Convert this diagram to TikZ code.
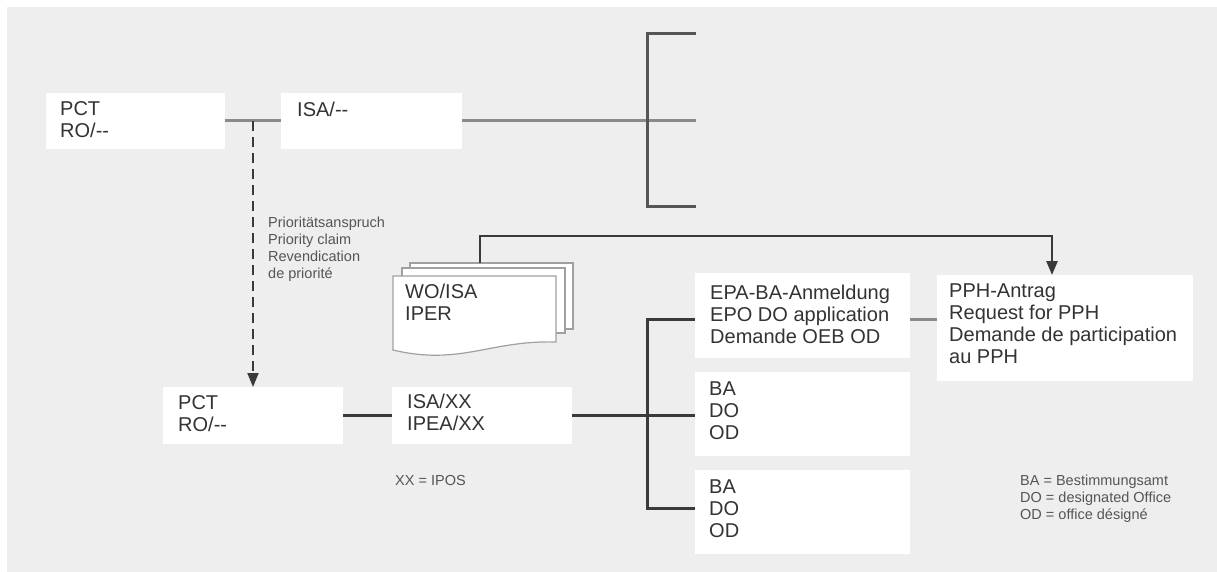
\documentclass[tikz,border=0pt]{standalone}
\usepackage{fontspec}
\setmainfont{Liberation Sans}
\usetikzlibrary{arrows.meta}
\definecolor{bg}{HTML}{EEEEEE}
\definecolor{txt}{HTML}{333333}
\definecolor{stxt}{HTML}{555555}
\definecolor{lline}{HTML}{8A8A8A}
\definecolor{dline}{HTML}{3A3A3A}
\definecolor{bline}{HTML}{555555}
\definecolor{pageline}{HTML}{A0A0A0}
\begin{document}
\begin{tikzpicture}[x=1pt,y=1pt,
  box/.style={fill=white, draw=none, inner sep=0pt, outer sep=0pt, anchor=north west},
  big/.style={anchor=north west, inner sep=0pt, align=left, font=\fontsize{20}{22}\selectfont, text=txt},
  small/.style={anchor=north west, inner sep=0pt, align=left, font=\fontsize{14.5}{17}\selectfont, text=stxt},
  lightconn/.style={draw=lline, line width=3pt},
  darkconn/.style={draw=dline, line width=3pt},
  bracketline/.style={draw=bline, line width=3pt},
  arrowconn/.style={draw=dline, line width=2.5pt, -{Triangle[length=14pt,width=11pt]}},
  arrowdash/.style={draw=dline, line width=2pt, dash pattern=on 10pt off 6pt, -{Triangle[length=14pt,width=11pt]}},
  page/.style={fill=white, draw=pageline, line width=1.2pt}
]
\useasboundingbox (0,0) rectangle (1217,-572);
\fill[bg] (7,-7) rectangle (1217,-572);

% boxes
\node[box, minimum width=179pt, minimum height=56pt] (pct1) at (46,-93) {};
\node[box, minimum width=181pt, minimum height=56pt] (isa1) at (281,-93) {};
\node[box, minimum width=180pt, minimum height=57pt] (pct2) at (163,-387) {};
\node[box, minimum width=180pt, minimum height=57pt] (isa2) at (392,-387) {};
\node[box, minimum width=215pt, minimum height=85pt] (epa) at (695,-273) {};
\node[box, minimum width=215pt, minimum height=84pt] (ba1) at (695,-372) {};
\node[box, minimum width=215pt, minimum height=84pt] (ba2) at (695,-470) {};
\node[box, minimum width=256pt, minimum height=106pt] (pph) at (937,-275) {};

% box texts
\node[big] (pct1t) at ([xshift=14pt,yshift=-6pt]pct1.north west) {\rule{0pt}{16pt}PCT\\RO/-{}-};
\node[big] (isa1t) at ([xshift=16pt,yshift=-7pt]isa1.north west) {\rule{0pt}{16pt}ISA/-{}-};
\node[big] (pct2t) at ([xshift=15pt,yshift=-6pt]pct2.north west) {\rule{0pt}{16pt}PCT\\RO/-{}-};
\node[big] (isa2t) at ([xshift=15pt,yshift=-5pt]isa2.north west) {\rule{0pt}{16pt}ISA/XX\\IPEA/XX};
\node[big] (epat) at ([xshift=15pt,yshift=-10pt]epa.north west) {\rule{0pt}{16pt}EPA-BA-Anmeldung\\EPO DO application\\Demande OEB OD};
\node[big] (ba1t) at ([xshift=14pt,yshift=-7pt]ba1.north west) {\rule{0pt}{16pt}BA\\DO\\OD};
\node[big] (ba2t) at ([xshift=14pt,yshift=-7pt]ba2.north west) {\rule{0pt}{16pt}BA\\DO\\OD};
\node[big] (ppht) at ([xshift=12pt,yshift=-6pt]pph.north west) {\rule{0pt}{16pt}PPH-Antrag\\Request for PPH\\Demande de participation\\au PPH};

% document stack
\filldraw[page] (410,-263) rectangle (573,-329);
\filldraw[page] (402,-268) rectangle (565,-333);
\filldraw[page] (393,-276) -- (556,-276) -- (556,-342) .. controls (490,-340) and (460,-366) .. (393,-350) -- cycle;
\node[big] (wot) at (405,-282) {\rule{0pt}{16pt}WO/ISA\\IPER};
\coordinate (stacktop) at (480,-263);
\coordinate (pphin) at (1052,-275);

% small texts
\node[small] (prio) at (268,-215) {\rule{0pt}{12pt}Prioritätsanspruch\\Priority claim\\Revendication\\de priorité};
\node[small] (xx) at (395,-473) {\rule{0pt}{12pt}XX = IPOS};
\node[small] (legend) at (1020,-473) {\rule{0pt}{12pt}BA = Bestimmungsamt\\DO = designated Office\\OD = office désigné};

% top connectors
\draw[lightconn] (pct1.east) -- (isa1.west);
\coordinate (brmid) at (696,-121);
\draw[lightconn] (isa1.east) -- (brmid);
\draw[bracketline] (696,-34) -- (647,-34) -- (647,-206) -- (696,-206);

% dashed priority arrow
\draw[arrowdash] (pct2.north |- pct1.east) -- (pct2.north);

% bottom connectors
\draw[darkconn] (pct2.east) -- (pct2.east -| isa2.west);
\draw[darkconn] (isa2.east) -- (isa2.east -| ba1.west);
\draw[darkconn] ([yshift=-4pt]epa.west) -- ++(-48,0) |- ([yshift=4pt]ba2.west);
\draw[lightconn] ([yshift=-4pt]epa.east) -- ([yshift=-4pt]epa.east -| pph.west);

% stack to PPH
\draw[arrowconn] (stacktop) -- ++(0,27) -| (pphin);
\end{tikzpicture}
\end{document}
